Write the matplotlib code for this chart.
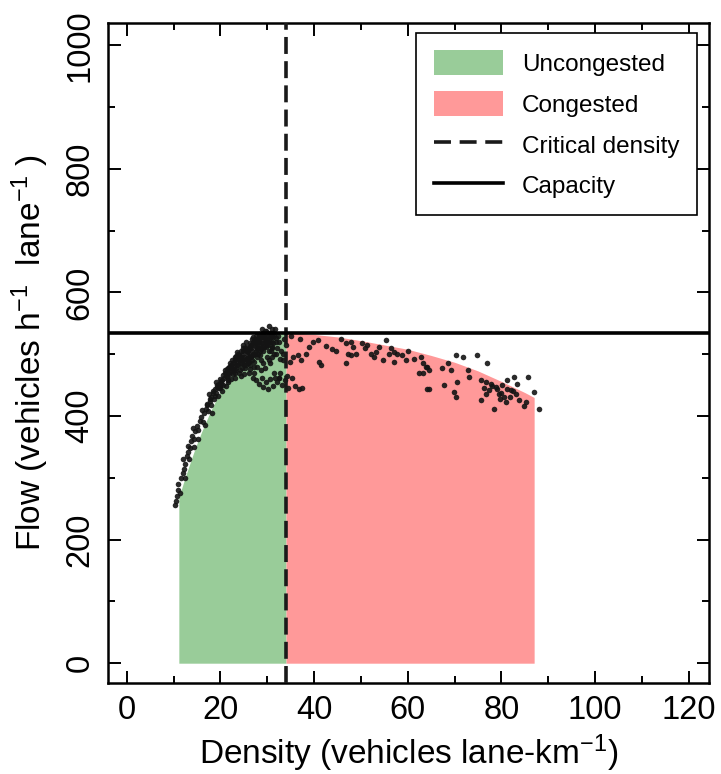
import matplotlib
matplotlib.use("Agg")
import matplotlib.pyplot as plt
from matplotlib.patches import Patch
from matplotlib.lines import Line2D

plt.rcParams['font.family'] = ['Liberation Sans', 'DejaVu Sans']
plt.rcParams['mathtext.fontset'] = 'custom'
plt.rcParams['mathtext.rm'] = 'Liberation Sans'
plt.rcParams['mathtext.it'] = 'Liberation Sans'

# ---- data ----
critical_density = 34.0
capacity = 535.0

green_k = [11.1, 12, 13, 14, 15, 16, 18, 20, 22, 24, 26, 28, 30, 32, 34]
green_q = [268, 290, 313, 335, 356, 375, 410, 440, 463, 482, 499, 514, 525, 532, 535]

red_k = [34, 40, 45, 50, 55, 60, 65, 70, 75, 80, 85, 87]
red_q = [535, 532, 528, 522, 515, 508, 498, 487, 473, 456, 438, 430]

tail_k = [10.2, 10.5, 10.8, 11.0, 10.9, 11.3, 11.6, 11.9, 12.2, 12.0, 12.5, 12.8, 13.1, 13.0, 13.5,
          13.8, 14.0, 14.3, 14.6, 14.2, 15.0, 15.3, 15.6, 15.9, 16.2, 16.5, 16.0, 16.8, 17.1, 17.4,
          17.7, 18.0, 17.5, 18.3, 18.6, 18.9, 19.2, 19.0, 19.6, 19.9, 20.2, 20.0, 20.5, 20.8, 21.1,
          21.4, 21.0, 21.7, 22.0, 22.3, 21.5, 22.6, 18.2, 16.6, 15.1, 14.4, 19.5, 21.2, 13.3, 12.4, 20.3]
tail_q = [256, 262, 270, 280, 290, 275, 300, 308, 315, 330, 322, 335, 342, 352, 348,
          360, 368, 362, 375, 380, 384, 378, 392, 398, 390, 405, 410, 412, 418, 408,
          425, 430, 435, 437, 428, 444, 447, 455, 452, 460, 456, 445, 466, 462, 470,
          465, 475, 478, 472, 483, 458, 476, 405, 385, 362, 350, 432, 448, 330, 300, 440]

core_k = [22.5, 23, 23.5, 22.8, 23.2, 23.8, 24, 24.2, 23.6, 24.5, 24.8, 24.4, 23.1,
          25, 25.3, 25.6, 25.9, 25.2, 24.9, 26.1, 25.5, 26.3, 26, 25.8, 25.1, 26.5,
          26.7, 27, 27.3, 27.6, 27.9, 26.8, 27.2, 27.8, 28, 26.4, 27.5, 28.2, 27.1, 26.9,
          28.4, 28.7, 29, 29.3, 29.6, 28.5, 29.1, 29.8, 30, 28.8, 29.4, 30.2, 28.6, 29.9, 30.3,
          30.5, 30.8, 31, 31.2, 31.5, 31.8, 30.6, 31.4, 32, 32.2, 31.6, 30.4,
          32.5, 33, 33.3, 32.8, 33.6, 33.9, 32.4,
          24.6, 25.4, 26.2, 27.4, 28.1, 28.9, 29.7, 30.7, 26.6, 27.7, 28.3, 29.2, 25.7, 24.1,
          23.4, 26.0, 27.0, 28.0, 29.0, 30.0, 31.0, 25.0, 26.8, 28.6, 29.5, 30.9, 31.3]
core_q = [490, 495, 488, 480, 470, 482, 498, 475, 503, 490, 505, 465, 462,
          495, 510, 500, 485, 478, 515, 508, 520, 497, 470, 490, 468, 515,
          505, 520, 500, 512, 525, 490, 480, 495, 510, 482, 530, 520, 470, 462,
          515, 528, 505, 520, 532, 498, 485, 512, 525, 540, 538, 530, 475, 495, 505,
          520, 535, 512, 528, 500, 520, 485, 470, 510, 530, 540, 545,
          520, 505, 490, 470, 525, 515, 462,
          485, 492, 512, 518, 500, 518, 522, 528, 495, 508, 530, 512, 505, 492,
          478, 488, 498, 522, 530, 515, 520, 482, 525, 508, 527, 510, 535]

band_k = [17.2, 17.8, 18.4, 18.8, 19.3, 19.8, 20.4, 20.9, 21.3, 21.8, 22.1, 22.4, 22.9, 23.3,
          23.7, 24.3, 24.7, 25.1, 25.5, 25.9, 26.3, 26.6, 27.0, 27.4, 27.8, 28.2, 28.6, 29.0,
          29.4, 29.8, 30.2, 30.6, 31.0, 31.4, 31.9, 22.2, 23.0, 23.9, 24.6, 25.4, 26.2, 27.1,
          27.9, 28.7, 29.5, 30.3, 31.1, 31.9, 32.7, 33.4, 20.6, 21.6, 22.7, 24.1, 25.3, 26.9,
          28.4, 30.8, 19.0, 18.0,
          21.9, 22.6, 23.1, 23.8, 24.4, 24.9, 25.6, 26.4, 27.2, 27.7, 28.3, 29.1, 29.7, 30.4,
          31.2, 21.4, 22.0, 23.5, 24.8, 26.0, 27.5, 28.9, 30.1, 19.6, 20.1]
band_q = [420, 428, 440, 432, 450, 448, 458, 470, 476, 468, 485, 478, 488, 497,
          492, 505, 498, 507, 512, 503, 518, 510, 528, 523, 517, 532, 526, 535,
          527, 538, 520, 528, 540, 533, 526, 460, 475, 470, 478, 483, 476, 488,
          480, 490, 478, 490, 495, 500, 492, 500, 450, 455, 468, 486, 490, 500,
          505, 505, 438, 418,
          480, 486, 493, 500, 496, 510, 506, 513, 515, 522, 524, 530, 522, 535,
          518, 463, 472, 482, 490, 495, 505, 512, 515, 445, 452]

sub_k = [27.5, 28.3, 29, 29.8, 30.5, 31.2, 32, 32.6, 33.2, 33.8, 34.5, 35.2, 36, 36.8, 37.5,
         34.2, 31.7, 30.1, 28.9]
sub_q = [458, 452, 447, 455, 460, 448, 455, 462, 450, 458, 445, 462, 448, 443, 446,
         465, 462, 444, 462]

cong_k = [35.1, 36.9, 39.7, 40.8, 39.0, 38.3, 36.5, 35.4, 34.8, 37.2, 41.1, 41.5, 45.8, 46.8,
          47.9, 48.2, 47.2, 47.9, 49.0, 44.7, 46.8, 50.3, 51.4, 52.2, 53.2, 55.4, 53.9, 56.1,
          57.1, 57.8, 54.7, 57.1, 60.0, 59.6, 61.4, 62.8, 63.2, 62.5, 64.2, 64.2,
          63.9, 64.6, 63.2, 64.6, 67.4, 68.5, 69.2, 70.3, 71.7, 74.9, 77.0, 72.8, 73.1, 70.6,
          67.8, 69.9, 70.3, 75.6, 76.7, 77.8, 78.8, 80.2, 81.3, 82.0, 82.7, 83.4, 81.3, 85.6,
          87.0, 88.1, 83.8, 84.9, 81.0, 78.5, 75.6, 76.7, 79.5, 80.6, 77.4, 79.0, 82.5, 83.1,
          85.2, 78.0, 80.0, 81.8, 79.8, 76.2,
          42.5, 43.8, 50.9, 52.8, 56.5, 58.8]
cong_q = [529, 525, 520, 523, 512, 501, 498, 496, 488, 490, 488, 482, 525, 518,
          520, 512, 501, 498, 501, 506, 485, 518, 515, 501, 504, 523, 512, 501,
          504, 501, 490, 488, 506, 490, 493, 496, 485, 469, 480, 444,
          480, 474, 469, 444, 477, 485, 474, 498, 496, 498, 485, 474, 463, 455,
          450, 439, 431, 458, 455, 452, 447, 450, 444, 442, 463, 452, 458, 463,
          439, 412, 426, 417, 423, 412, 426, 436, 436, 431, 442, 444, 440, 436,
          423, 448, 438, 430, 428, 445,
          514, 508, 510, 496, 510, 498]

# ---- figure ----
fig = plt.figure(figsize=(7.21, 7.74), dpi=100)
ax = fig.add_axes([0.150, 0.1176, 0.833, 0.8527])

ax.fill_between(green_k, 0, green_q, color='#99CC99', linewidth=0, zorder=1)
ax.fill_between(red_k, 0, red_q, color='#FF9999', linewidth=0, zorder=1)

all_k = tail_k + core_k + band_k + sub_k + cong_k
all_q = tail_q + core_q + band_q + sub_q + cong_q
ax.scatter(all_k, all_q, s=16, color='#141414', alpha=0.9, linewidths=0, zorder=3)

line_dash = (0, (4.7, 2.0))
legend_dash = (0, (4.7, 2.4))
ax.axvline(critical_density, color='#1a1a1a', linestyle=line_dash, linewidth=2.6, zorder=4)
ax.axhline(capacity, color='black', linewidth=2.6, zorder=4)

ax.set_xlim(-4.0, 124.3)
ax.set_ylim(-32, 1036)

ax.set_xticks([0, 20, 40, 60, 80, 100, 120])
ax.set_xticks([10, 30, 50, 70, 90, 110], minor=True)
ax.set_yticks([0, 200, 400, 600, 800, 1000])
ax.set_yticks([100, 300, 500, 700, 900], minor=True)

ax.tick_params(which='both', direction='in', top=True, right=True, width=1.4, colors='black')
ax.tick_params(which='major', length=9)
ax.tick_params(which='minor', length=5)
ax.tick_params(axis='x', which='major', labelsize=23.5, pad=9)
ax.tick_params(axis='y', which='major', labelsize=23.5, pad=9)
for lab in ax.get_yticklabels():
    lab.set_rotation(90)
    lab.set_va('center')

for sp in ax.spines.values():
    sp.set_linewidth(1.8)

ax.set_xlabel('Density (vehicles lane-km$^{-1}$)', fontsize=24, labelpad=4)
ax.set_ylabel('Flow (vehicles h$^{-1}$  lane$^{-1}$ )', fontsize=24, labelpad=10)

handles = [Patch(facecolor='#99CC99', edgecolor='none'),
           Patch(facecolor='#FF9999', edgecolor='none'),
           Line2D([0], [0], color='#1a1a1a', linestyle=legend_dash, linewidth=2.6),
           Line2D([0], [0], color='black', linewidth=2.6)]
labels = ['Uncongested', 'Congested', 'Critical density', 'Capacity']
leg = ax.legend(handles, labels, loc='upper right', fontsize=17.5, frameon=True, fancybox=False,
                edgecolor='black', framealpha=1, handlelength=2.85, handleheight=1.2,
                handletextpad=0.8, labelspacing=0.63, borderpad=0.7, borderaxespad=0,
                bbox_to_anchor=(0.980, 0.985))
leg.get_frame().set_linewidth(1.2)

fig.savefig('out.png', dpi=100)
